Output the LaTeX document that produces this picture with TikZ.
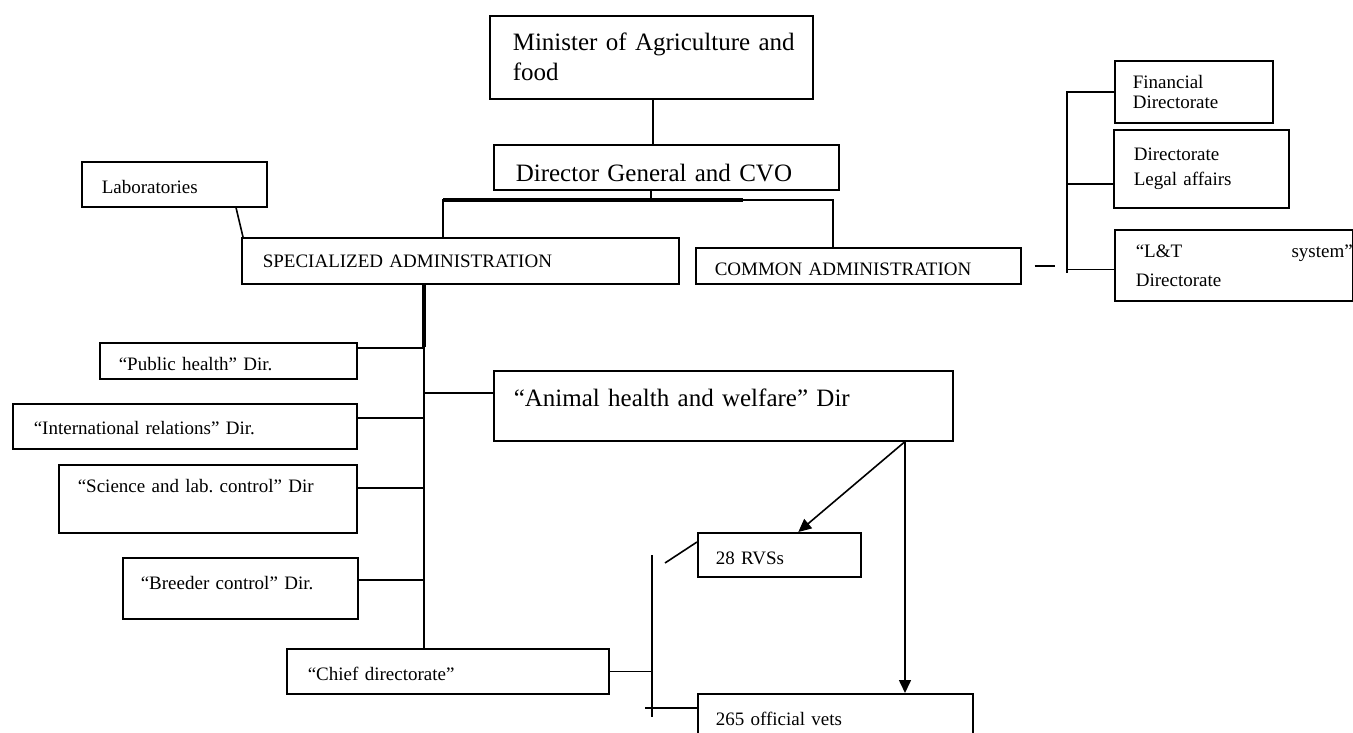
\documentclass[tikz,border=0pt]{standalone}
\usepackage{fontspec}
\setmainfont{Liberation Serif}
\usetikzlibrary{arrows.meta}
\setlength{\parindent}{0pt}
\frenchspacing
\tikzset{
  box/.style={draw, line width=1.6pt, inner sep=0pt, anchor=north west, align=left},
  big/.style={font=\fontsize{25}{30}\selectfont},
  small/.style={font=\fontsize{19}{22}\selectfont},
  conn/.style={line width=1.6pt},
  thick conn/.style={line width=3.2pt},
  arr/.style={line width=1.6pt, -{Triangle[length=13pt,width=12pt]}},
}
\begin{document}
\begin{tikzpicture}[x=1pt,y=-1pt]
\useasboundingbox (0,0) rectangle (1353,733);
\fill[white] (0,0) rectangle (1353,733);
\clip (0,0) rectangle (1353,733);

% boxes
\node[box, big, text width=323pt, minimum height=83pt] (minister) at (489,15)
  {\hspace*{23pt}Minister of Agriculture and\\\hspace*{23pt}food};
\node[box, big, text width=345pt, minimum height=45pt, text height=35pt, text depth=7.5pt] (dg) at (493,144)
  {\hspace*{22pt}Director General and CVO};
\node[box, small, text width=185pt, minimum height=45pt, text height=23.2pt, text depth=5.7pt] (lab) at (81,161)
  {\hspace*{20pt}Laboratories};
\node[box, small, text width=437pt, minimum height=46pt, text height=18.2pt, text depth=5.7pt] (spec) at (241,237)
  {\hspace*{21pt}SPECIALIZED ADMINISTRATION};
\node[box, small, text width=325pt, minimum height=36pt, text height=24.2pt, text depth=5.7pt] (common) at (695,247)
  {\hspace*{19pt}COMMON ADMINISTRATION};
\node[box, font=\fontsize{19}{20}\selectfont, text width=158pt, minimum height=62pt] (fin) at (1114,60)
  {\hspace*{18pt}Financial\\\hspace*{18pt}Directorate};
\node[box, font=\fontsize{19}{25}\selectfont, text width=175pt, minimum height=78pt] (legal) at (1113,129)
  {\hspace*{20pt}Directorate\\\hspace*{20pt}Legal affairs};
\node[box, font=\fontsize{19}{29}\selectfont, text width=238pt, minimum height=71pt] (lt) at (1114,229)
  {\hspace*{21pt}“L\&T\hfill system”\hspace*{7pt}\\\hspace*{21pt}Directorate};
\node[box, small, text width=257pt, minimum height=36pt, text height=24.3pt, text depth=5.7pt] (public) at (99,342)
  {\hspace*{19pt}“Public health” Dir.};
\node[box, small, text width=344pt, minimum height=45pt, text height=21.3pt, text depth=5.7pt] (intl) at (12,403)
  {\hspace*{21pt}“International relations” Dir.};
\node[box, small, text width=298pt, minimum height=68pt, text height=6pt, text depth=19.4pt] (science) at (58,464)
  {\hspace*{19pt}“Science and lab. control” Dir};
\node[box, small, text width=235pt, minimum height=61pt, text height=7.3pt, text depth=5.7pt] (breeder) at (122,557)
  {\hspace*{18pt}“Breeder control” Dir.};
\node[box, big, text width=459pt, minimum height=70pt, text height=8pt, text depth=7.5pt] (animal) at (493,370)
  {\hspace*{20pt}“Animal health and welfare” Dir};
\node[box, small, text width=322pt, minimum height=45pt, text height=23.3pt, text depth=5.7pt] (chief) at (286,648)
  {\hspace*{21pt}“Chief directorate”};
\node[box, small, text width=163pt, minimum height=44pt, text height=24.3pt, text depth=5.7pt] (rvs) at (697,532)
  {\hspace*{18pt}28 RVSs};
\node[box, small, text width=275pt, minimum height=52pt, text height=16.3pt, text depth=5.7pt] (vets) at (697,693)
  {\hspace*{18pt}265 official vets};

% helper coordinates
\coordinate (mx) at (653,0);
\coordinate (sc) at (651,200);
\coordinate (sl) at (443,200);
\coordinate (sr) at (833,200);
\coordinate (st) at (743,200);
\coordinate (lb) at (236,0);
\coordinate (lsp) at (243,0);
\coordinate (tx) at (424,0);
\coordinate (ax) at (905,0);
\coordinate (bt) at (652,555);
\coordinate (bb) at (652,717);
\coordinate (vb) at (645,708);
\coordinate (dga) at (665,563);
\coordinate (rb) at (1067,0);
\coordinate (pb) at ([yshift=-6pt]public.north east);
\coordinate (ib) at ([yshift=-15pt]intl.north east);
\coordinate (sb) at ([yshift=-24pt]science.north east);
\coordinate (bb2) at ([yshift=-23pt]breeder.north east);
\coordinate (ab) at ([yshift=-23pt]animal.north west);
\coordinate (lg) at ([yshift=-15pt]legal.west);
\coordinate (lt1) at ([yshift=-4pt]lt.west);

% top connectors
\draw[conn] (minister.south -| mx) -- (dg.north -| mx);
\draw[conn] (dg.south -| sc) -- (sc);
\draw[conn] (spec.north -| sl) -- (sl) -- (sr) -- (common.north -| sr);
\draw[thick conn] (sl) -- (st);
\draw[conn] (lab.south -| lb) -- (spec.north -| lsp);

% trunk and branches
\draw[conn] (spec.south -| tx) -- (chief.north -| tx);
\draw[thick conn] (spec.south -| tx) -- ++(0,62);
\draw[conn] (pb) -- (pb -| tx);
\draw[conn] (ib) -- (ib -| tx);
\draw[conn] (sb) -- (sb -| tx);
\draw[conn] (bb2) -- (bb2 -| tx);
\draw[conn] (ab -| tx) -- (ab);

% animal health arrows
\draw[arr] (animal.south -| ax) -- ([xshift=19pt]rvs.north);
\draw[arr] (animal.south -| ax) -- (vets.north -| ax);

% chief directorate bracket
\draw[conn] (bt) -- (bb);
\draw[conn] (chief.east) -- (chief.east -| bt);
\draw[conn] (vb) -- (vb -| vets.west);
\draw[conn] (dga) -- ([yshift=-10pt]rvs.north west);

% common administration bracket
\draw[conn] ([xshift=13pt]common.east) -- ([xshift=33pt]common.east);
\draw[conn] (fin.west) -- (fin.west -| rb) -- (lt1 -| rb) -- ++(0,4);
\draw[conn] (lg) -- (lg -| rb);
\draw[conn] (lt1) -- (lt1 -| rb);
\end{tikzpicture}
\end{document}
